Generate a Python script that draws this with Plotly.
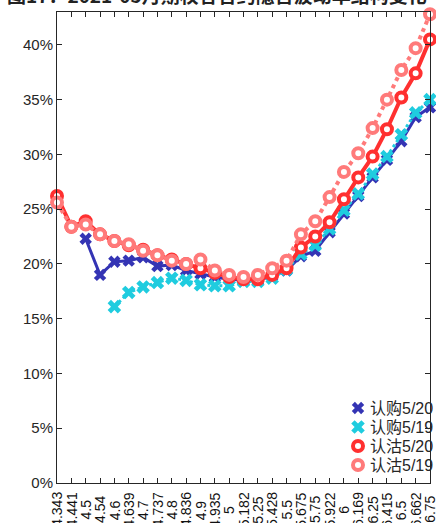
import plotly.graph_objects as go

strikes = ["4.343", "4.441", "4.5", "4.54", "4.6", "4.639", "4.7", "4.737", "4.8", "4.836",
           "4.9", "4.935", "5", "5.182", "5.25", "5.428", "5.5", "5.675", "5.75", "5.922",
           "6", "6.169", "6.25", "6.415", "6.5", "6.662", "6.75"]

call_0520 = [None, None, 0.223, 0.190, 0.202, 0.203, 0.206, 0.198, 0.199, 0.194,
             0.191, 0.188, 0.186, 0.185, 0.185, 0.189, 0.194, 0.207, 0.212, 0.229,
             0.246, 0.262, 0.279, 0.295, 0.312, 0.334, 0.343]
call_0519 = [None, None, None, None, 0.161, 0.174, 0.179, 0.183, 0.187, 0.185,
             0.181, 0.180, 0.180, 0.184, 0.184, 0.187, 0.195, 0.209, 0.217, 0.232,
             0.249, 0.264, 0.282, 0.298, 0.318, 0.338, 0.350]
put_0520 = [0.262, 0.234, 0.239, 0.227, 0.221, 0.217, 0.213, 0.208, 0.204, 0.200,
            0.196, 0.192, 0.188, 0.186, 0.186, 0.190, 0.196, 0.215, 0.225, 0.238,
            0.259, 0.279, 0.298, 0.323, 0.352, 0.374, 0.405]
put_0519 = [0.256, 0.234, 0.236, 0.227, 0.221, 0.218, 0.212, 0.208, 0.203, 0.200,
            0.204, 0.194, 0.190, 0.188, 0.190, 0.196, 0.203, 0.227, 0.239, 0.261,
            0.284, 0.301, 0.324, 0.350, 0.377, 0.397, 0.428]

series_names = ["认购5/20", "认购5/19", "认沽5/20", "认沽5/19"]
title_text = "图17：2021-05月期权各合约隐含波动率结构变化"

BLUE = "#3434B4"
CYAN = "#1FCCDF"
RED = "#FF3030"
PINK = "#FF7A7A"
FONT = "Liberation Sans, Arial, Noto Sans CJK SC"

W, H = 436, 523
ML, MR, MT, MB = 57, 6, 12, 40

xs = list(range(len(strikes)))
fig = go.Figure()

styles = [
    dict(color=BLUE, dash="solid", width=3, marker=dict(symbol="x", size=11, color=BLUE, line=dict(width=0))),
    dict(color=CYAN, dash="dot", width=3, marker=dict(symbol="x", size=12, color=CYAN, line=dict(width=0))),
    dict(color=RED, dash="solid", width=4, marker=dict(symbol="circle", size=10, color="white", line=dict(color=RED, width=4))),
    dict(color=PINK, dash="dot", width=4, marker=dict(symbol="circle", size=10, color="white", line=dict(color=PINK, width=4))),
]
data = [call_0520, call_0519, put_0520, put_0519]

for name, ys, st in zip(series_names, data, styles):
    fig.add_trace(go.Scatter(
        x=xs, y=ys, mode="lines+markers", name=name, showlegend=False,
        line=dict(color=st["color"], width=st["width"], dash=st["dash"]),
        marker=st["marker"], cliponaxis=False, connectgaps=False,
    ))

# Compact legend drawn on a hidden overlay axis measured in figure pixels
LEG_SYM_X, LEG_TXT_X, LEG_TOP, LEG_ROW = 358, 368, 408, 19
annotations = []
for i, (name, st) in enumerate(zip(series_names, styles)):
    row_y = LEG_TOP + LEG_ROW * i
    fig.add_trace(go.Scatter(
        x=[LEG_SYM_X], y=[row_y], xaxis="x2", yaxis="y2", mode="markers",
        name=name, showlegend=False, marker=st["marker"], cliponaxis=False,
        hoverinfo="skip",
    ))
    annotations.append(dict(
        x=LEG_TXT_X, y=row_y, xref="x2", yref="y2", text=name, showarrow=False,
        xanchor="left", yanchor="middle",
        font=dict(family=FONT, size=16, color="#262626"),
    ))

# rotated x tick labels, centred below the axis
for i, lab in enumerate(strikes):
    annotations.append(dict(
        x=i, y=-0.057, xref="x", yref="paper", text=lab, showarrow=False,
        textangle=-90, xanchor="center", yanchor="middle",
        font=dict(family=FONT, size=14, color="#111111"),
    ))
annotations.append(dict(
    x=0.43, y=1.038, xref="paper", yref="paper", text="<b>" + title_text + "</b>",
    showarrow=False, xanchor="center", yanchor="middle",
    font=dict(family="Noto Sans CJK SC", size=19, color="#222222"),
))

fig.update_layout(
    width=W, height=H,
    margin=dict(l=ML, r=MR, t=MT, b=MB, autoexpand=False),
    paper_bgcolor="white", plot_bgcolor="white",
    font=dict(family=FONT, size=15, color="#262626"),
    showlegend=False,
    annotations=annotations,
    xaxis2=dict(overlaying="x", range=[ML, W - MR], visible=False, fixedrange=True),
    yaxis2=dict(overlaying="y", range=[H - MB, MT], visible=False, fixedrange=True),
)

fig.update_xaxes(
    selector=dict(overlaying=None),
)
fig.layout.xaxis.update(
    range=[0, len(strikes) - 1], tickmode="array", tickvals=xs,
    showticklabels=False, ticks="inside", ticklen=5, tickcolor="#262626",
    showline=True, linecolor="#262626", linewidth=1, mirror="ticks",
    showgrid=False, zeroline=False, automargin=False,
)
fig.layout.yaxis.update(
    range=[0, 0.43], dtick=0.05, tickformat=".0%",
    ticks="inside", ticklen=5, tickcolor="#262626",
    showline=True, linecolor="#262626", linewidth=1, mirror="ticks",
    showgrid=False, zeroline=False, automargin=False,
    tickfont=dict(family=FONT, size=15, color="#262626"),
)

fig.write_html(
    "out.html",
    config={"displayModeBar": False},
    post_script="document.body.style.margin='0';document.body.style.overflow='hidden';",
)
